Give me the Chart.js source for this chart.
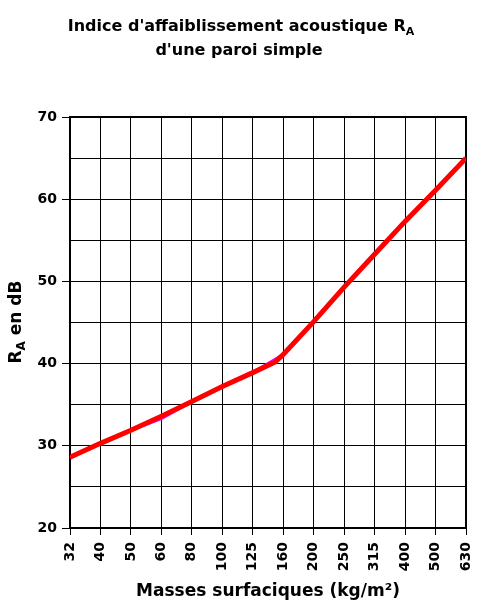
<!DOCTYPE html>
<html>
<head>
<meta charset="utf-8">
<script src="https://cdn.jsdelivr.net/npm/chart.js@4/dist/chart.umd.min.js"></script>
<style>
html,body{margin:0;padding:0;background:#fff;}
#wrap{position:relative;width:485px;height:603px;}
</style>
</head>
<body>
<div id="wrap"><canvas id="c"></canvas></div>
<script>
// ---- data ----
const categories = ['32','40','50','60','80','100','125','160','200','250','315','400','500','630'];
const categoryMasses = [31.5, 40, 50, 63, 80, 100, 125, 160, 200, 250, 315, 400, 500, 630];
const redMasses = [31.5, 40, 50, 63, 80, 100, 125, 150, 160, 200, 250, 315, 400, 500, 630];
const redValues = [28.6, 30.3, 31.9, 33.6, 35.4, 37.2, 38.9, 40.2, 41.1, 45.1, 49.3, 53.3, 57.3, 61.1, 65.0];
const magentaValues = [28.6, 30.3, 31.9, 33.3, 35.4, 37.2, 38.9, 41.1, 45.1, 49.3, 53.3, 57.3, 61.1, 65.0];
const yTicks = [20, 30, 40, 50, 60, 70];
const titleLine1 = "Indice d'affaiblissement acoustique R";
const titleSub = "A";
const titleLine2 = "d'une paroi simple";
const yTitleMain = "R";
const yTitleSub = "A";
const yTitleRest = " en dB";
const xTitle = "Masses surfaciques (kg/m\u00B2)";

// position of a mass on the equally spaced category axis (log interpolation)
function massToIndex(m){
  for(let i=0;i<categoryMasses.length-1;i++){
    const a=categoryMasses[i], b=categoryMasses[i+1];
    if(m>=a && m<=b){
      return i + (Math.log(m)-Math.log(a))/(Math.log(b)-Math.log(a));
    }
  }
  return m<categoryMasses[0]?0:categoryMasses.length-1;
}
const redData = redMasses.map((m,i)=>({x:massToIndex(m), y:redValues[i]}));
const magentaData = magentaValues.map((v,i)=>({x:i, y:v}));

const FONT = "'DejaVu Sans', sans-serif";

const decorPlugin = {
  id:'decor',
  beforeDatasetsDraw(chart){
    const {ctx, chartArea:a} = chart;
    ctx.save();
    ctx.strokeStyle='#000';
    ctx.lineWidth=2;
    ctx.strokeRect(a.left, a.top, a.right-a.left, a.bottom-a.top);
    ctx.restore();
  },
  afterDraw(chart){
    const ctx = chart.ctx;
    ctx.save();
    ctx.fillStyle='#000';
    ctx.textBaseline='alphabetic';
    // title line 1 with subscript
    const cx = 241;
    ctx.font = "bold 16px "+FONT;
    const w1 = ctx.measureText(titleLine1).width;
    ctx.font = "bold 11px "+FONT;
    const ws = ctx.measureText(titleSub).width;
    const start = cx - (w1+ws)/2;
    ctx.font = "bold 16px "+FONT;
    ctx.textAlign='left';
    ctx.fillText(titleLine1, start, 31);
    ctx.font = "bold 11px "+FONT;
    ctx.fillText(titleSub, start+w1, 35);
    ctx.font = "bold 16px "+FONT;
    ctx.textAlign='center';
    ctx.fillText(titleLine2, 239, 55);
    // y axis title rotated with subscript
    ctx.translate(21, 322);
    ctx.rotate(-Math.PI/2);
    ctx.font = "bold 17px "+FONT;
    const r1 = ctx.measureText(yTitleMain).width;
    const r3 = ctx.measureText(yTitleRest).width;
    ctx.font = "bold 12px "+FONT;
    const r2 = ctx.measureText(yTitleSub).width;
    let x0 = -(r1+r2+r3)/2;
    ctx.textAlign='left';
    ctx.font = "bold 17px "+FONT;
    ctx.fillText(yTitleMain, x0, 0);
    ctx.font = "bold 12px "+FONT;
    ctx.fillText(yTitleSub, x0+r1, 4);
    ctx.font = "bold 17px "+FONT;
    ctx.fillText(yTitleRest, x0+r1+r2, 0);
    ctx.restore();
  }
};

new Chart(document.getElementById('c'), {
  type:'line',
  data:{
    datasets:[
      {label:'RA', data:redData, borderColor:'#FF0000', borderWidth:5, pointRadius:0, tension:0, order:0, fill:false},
      {label:'RA (2)', data:magentaData, borderColor:'#FF00FF', borderWidth:3, pointRadius:0, tension:0, order:1, fill:false}
    ]
  },
  options:{
    responsive:true,
    maintainAspectRatio:false,
    animation:false,
    events:[],
    layout:{padding:{top:117, right:19, bottom:0, left:0}},
    plugins:{legend:{display:false}, title:{display:false}, tooltip:{enabled:false}},
    scales:{
      x:{
        type:'linear', min:0, max:categories.length-1,
        afterFit(s){ s.height = 75; s.paddingLeft = 0; s.paddingRight = 0; },
        afterBuildTicks(s){ s.ticks = categories.map((c,i)=>({value:i})); },
        ticks:{
          autoSkip:false, maxRotation:90, minRotation:90, padding:7,
          color:'#000', font:{family:FONT, size:14, weight:'bold'},
          callback:(v)=>categories[v]
        },
        grid:{color:'#000', lineWidth:1, tickLength:7, tickColor:'#000'},
        border:{color:'#000', width:2},
        title:{display:true, text:xTitle, color:'#000', font:{family:FONT, size:17, weight:'bold'}, padding:{top:0, bottom:1}}
      },
      y:{
        type:'linear', min:20, max:70,
        afterFit(s){ s.width = 70; s.paddingTop = 0; s.paddingBottom = 0; },
        ticks:{
          stepSize:5, autoSkip:false, padding:5,
          color:'#000', font:{family:FONT, size:14, weight:'bold'},
          callback:(v)=> yTicks.includes(v) ? String(v) : ''
        },
        grid:{color:'#000', lineWidth:1, tickLength:8,
          tickColor:(ctx)=> (ctx.tick && yTicks.includes(ctx.tick.value)) ? '#000' : 'rgba(0,0,0,0)'},
        border:{color:'#000', width:2}
      }
    }
  },
  plugins:[decorPlugin]
});
</script>
</body>
</html>
